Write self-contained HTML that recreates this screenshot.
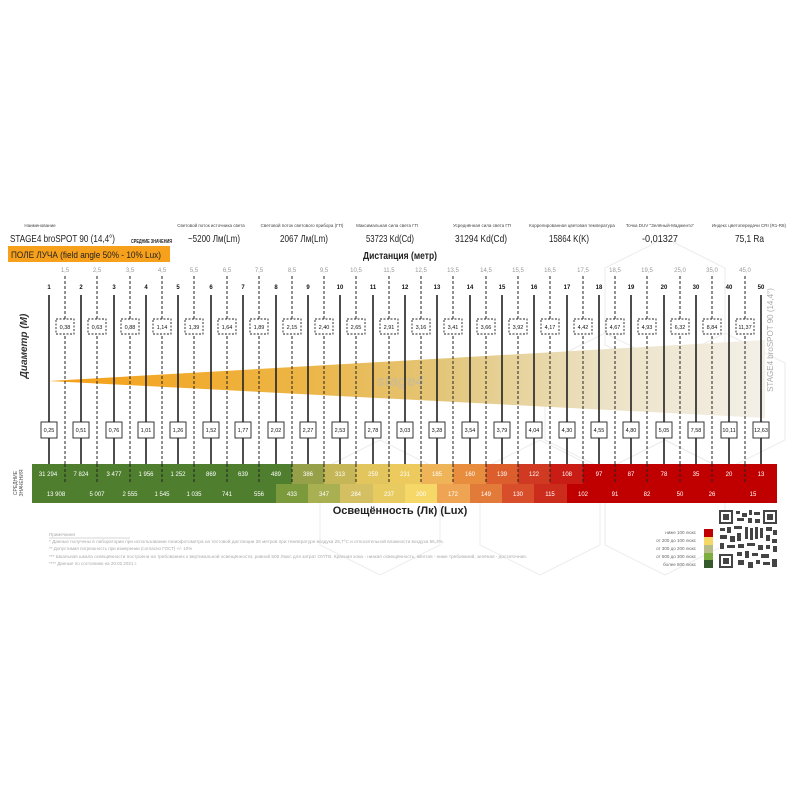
<!DOCTYPE html>
<html><head><meta charset="utf-8"><style>
html,body{margin:0;padding:0;background:#fff;}
svg{display:block;font-family:"Liberation Sans","Noto Sans CJK SC",sans-serif;}
</style></head><body>
<svg width="800" height="800" viewBox="0 0 800 800" xmlns="http://www.w3.org/2000/svg">
<defs>
<linearGradient id="bg" x1="49" y1="0" x2="765" y2="0" gradientUnits="userSpaceOnUse">
<stop offset="0" stop-color="#f5a016"/>
<stop offset="0.35" stop-color="#edb545"/>
<stop offset="0.55" stop-color="#e3c679"/>
<stop offset="0.78" stop-color="#ece2c6"/>
<stop offset="1" stop-color="#f4f0e8"/>
</linearGradient>
</defs>
<rect width="800" height="800" fill="#fff"/>
<g fill="none" stroke="#ebebeb" stroke-width="1">
<polygon points="605,268 665,238 725,268 725,345 665,375 605,345"/>
<polygon points="545,363 605,333 665,363 665,440 605,470 545,440"/>
<polygon points="665,363 725,333 785,363 785,440 725,470 665,440"/>
<polygon points="480,470 540,440 600,470 600,545 540,575 480,545"/>
<polygon points="605,470 665,440 725,470 725,545 665,575 605,545"/>
<polygon points="320,470 380,440 440,470 440,545 380,575 320,545"/>
</g>
<g fill="#444" font-size="4.5" text-anchor="middle">
<text x="40" y="227">Наименование</text>
<text x="211" y="227">Световой поток источника света</text>
<text x="302" y="227">Световой поток светового прибора (ГП)</text>
<text x="387" y="227">Максимальная сила света ГП</text>
<text x="482" y="227">Усреднённая сила света ГП</text>
<text x="572" y="227">Коррелированная цветовая температура</text>
<text x="660" y="227">Точка DUV "Зелёный-Мадженто"</text>
<text x="749" y="227">Индекс цветопередачи CRI (R1-R8)</text>
</g>
<g fill="#222" font-size="10.5" lengthAdjust="spacingAndGlyphs">
<text x="10" y="242" textLength="105" lengthAdjust="spacingAndGlyphs">STAGE4 broSPOT 90 (14,4°)</text>
<text x="188" y="242" textLength="52" lengthAdjust="spacingAndGlyphs">~5200 Лм(Lm)</text>
<text x="280" y="242" textLength="48" lengthAdjust="spacingAndGlyphs">2067 Лм(Lm)</text>
<text x="366" y="242" textLength="48" lengthAdjust="spacingAndGlyphs">53723 Kd(Cd)</text>
<text x="455" y="242" textLength="52" lengthAdjust="spacingAndGlyphs">31294 Kd(Cd)</text>
<text x="549" y="242" textLength="40" lengthAdjust="spacingAndGlyphs">15864 K(K)</text>
<text x="642" y="242" textLength="36" lengthAdjust="spacingAndGlyphs">-0,01327</text>
<text x="735" y="242" textLength="29" lengthAdjust="spacingAndGlyphs">75,1 Ra</text>
</g>
<text x="131" y="243" font-size="5" font-weight="bold" fill="#222" textLength="41" lengthAdjust="spacingAndGlyphs">СРЕДНИЕ ЗНАЧЕНИЯ</text>
<rect x="8" y="246" width="162" height="16" fill="#f7a01b"/>
<text x="11" y="258" font-size="9.5" fill="#222" textLength="150" lengthAdjust="spacingAndGlyphs">ПОЛЕ ЛУЧА (field angle 50% - 10% Lux)</text>
<text x="363" y="259" font-size="10" font-weight="bold" fill="#222" textLength="74" lengthAdjust="spacingAndGlyphs">Дистанция (метр)</text>
<polygon points="49,381 765,340 765,418" fill="url(#bg)"/>
<text x="400" y="386" font-size="15" font-style="italic" font-weight="bold" fill="#b8b8b8" fill-opacity="0.5" text-anchor="middle">stage4</text>
<g stroke="#222" stroke-width="1" stroke-dasharray="3,2">
<path d="M65 276V487M97 276V487M130 276V487M162 276V487M194 276V487M227 276V487M259 276V487M292 276V487M324 276V487M356 276V487M389 276V487M421 276V487M453 276V487M486 276V487M518 276V487M550 276V487M583 276V487M615 276V487M647 276V487M680 276V487M712 276V487M745 276V487"/>
</g>
<g stroke="#222" stroke-width="1.6">
<path d="M49 295V464M81 295V464M114 295V464M146 295V464M178 295V464M211 295V464M243 295V464M276 295V464M308 295V464M340 295V464M373 295V464M405 295V464M437 295V464M470 295V464M502 295V464M534 295V464M567 295V464M599 295V464M631 295V464M664 295V464M696 295V464M729 295V464M761 295V464"/>
</g>
<g fill="#999" font-size="6" text-anchor="middle">
<text x="65" y="272">1,5</text><text x="97" y="272">2,5</text><text x="130" y="272">3,5</text><text x="162" y="272">4,5</text><text x="194" y="272">5,5</text><text x="227" y="272">6,5</text><text x="259" y="272">7,5</text><text x="292" y="272">8,5</text><text x="324" y="272">9,5</text><text x="356" y="272">10,5</text><text x="389" y="272">11,5</text><text x="421" y="272">12,5</text><text x="453" y="272">13,5</text><text x="486" y="272">14,5</text><text x="518" y="272">15,5</text><text x="550" y="272">16,5</text><text x="583" y="272">17,5</text><text x="615" y="272">18,5</text><text x="647" y="272">19,5</text><text x="680" y="272">25,0</text><text x="712" y="272">35,0</text><text x="745" y="272">45,0</text>
</g>
<g fill="#111" font-size="6" font-weight="bold" text-anchor="middle">
<text x="49" y="289">1</text><text x="81" y="289">2</text><text x="114" y="289">3</text><text x="146" y="289">4</text><text x="178" y="289">5</text><text x="211" y="289">6</text><text x="243" y="289">7</text><text x="276" y="289">8</text><text x="308" y="289">9</text><text x="340" y="289">10</text><text x="373" y="289">11</text><text x="405" y="289">12</text><text x="437" y="289">13</text><text x="470" y="289">14</text><text x="502" y="289">15</text><text x="534" y="289">16</text><text x="567" y="289">17</text><text x="599" y="289">18</text><text x="631" y="289">19</text><text x="664" y="289">20</text><text x="696" y="289">30</text><text x="729" y="289">40</text><text x="761" y="289">50</text>
</g>
<g fill="#fff" stroke="#222" stroke-width="0.9" stroke-dasharray="2,1.5">
<rect x="56" y="319" width="18" height="15"/><rect x="88" y="319" width="18" height="15"/><rect x="121" y="319" width="18" height="15"/><rect x="153" y="319" width="18" height="15"/><rect x="185" y="319" width="18" height="15"/><rect x="218" y="319" width="18" height="15"/><rect x="250" y="319" width="18" height="15"/><rect x="283" y="319" width="18" height="15"/><rect x="315" y="319" width="18" height="15"/><rect x="347" y="319" width="18" height="15"/><rect x="380" y="319" width="18" height="15"/><rect x="412" y="319" width="18" height="15"/><rect x="444" y="319" width="18" height="15"/><rect x="477" y="319" width="18" height="15"/><rect x="509" y="319" width="18" height="15"/><rect x="541" y="319" width="18" height="15"/><rect x="574" y="319" width="18" height="15"/><rect x="606" y="319" width="18" height="15"/><rect x="638" y="319" width="18" height="15"/><rect x="671" y="319" width="18" height="15"/><rect x="703" y="319" width="18" height="15"/><rect x="736" y="319" width="18" height="15"/>
</g>
<g fill="#111" font-size="5.5" text-anchor="middle">
<text x="65" y="329">0,38</text><text x="97" y="329">0,63</text><text x="130" y="329">0,88</text><text x="162" y="329">1,14</text><text x="194" y="329">1,39</text><text x="227" y="329">1,64</text><text x="259" y="329">1,89</text><text x="292" y="329">2,15</text><text x="324" y="329">2,40</text><text x="356" y="329">2,65</text><text x="389" y="329">2,91</text><text x="421" y="329">3,16</text><text x="453" y="329">3,41</text><text x="486" y="329">3,66</text><text x="518" y="329">3,92</text><text x="550" y="329">4,17</text><text x="583" y="329">4,42</text><text x="615" y="329">4,67</text><text x="647" y="329">4,93</text><text x="680" y="329">6,32</text><text x="712" y="329">8,84</text><text x="745" y="329">11,37</text>
</g>
<g fill="#fff" stroke="#222" stroke-width="0.9">
<rect x="41" y="422" width="16" height="16"/><rect x="73" y="422" width="16" height="16"/><rect x="106" y="422" width="16" height="16"/><rect x="138" y="422" width="16" height="16"/><rect x="170" y="422" width="16" height="16"/><rect x="203" y="422" width="16" height="16"/><rect x="235" y="422" width="16" height="16"/><rect x="268" y="422" width="16" height="16"/><rect x="300" y="422" width="16" height="16"/><rect x="332" y="422" width="16" height="16"/><rect x="365" y="422" width="16" height="16"/><rect x="397" y="422" width="16" height="16"/><rect x="429" y="422" width="16" height="16"/><rect x="462" y="422" width="16" height="16"/><rect x="494" y="422" width="16" height="16"/><rect x="526" y="422" width="16" height="16"/><rect x="559" y="422" width="16" height="16"/><rect x="591" y="422" width="16" height="16"/><rect x="623" y="422" width="16" height="16"/><rect x="656" y="422" width="16" height="16"/><rect x="688" y="422" width="16" height="16"/><rect x="721" y="422" width="16" height="16"/><rect x="753" y="422" width="16" height="16"/>
</g>
<g fill="#111" font-size="5.5" text-anchor="middle">
<text x="49" y="432">0,25</text><text x="81" y="432">0,51</text><text x="114" y="432">0,76</text><text x="146" y="432">1,01</text><text x="178" y="432">1,26</text><text x="211" y="432">1,52</text><text x="243" y="432">1,77</text><text x="276" y="432">2,02</text><text x="308" y="432">2,27</text><text x="340" y="432">2,53</text><text x="373" y="432">2,78</text><text x="405" y="432">3,03</text><text x="437" y="432">3,28</text><text x="470" y="432">3,54</text><text x="502" y="432">3,79</text><text x="534" y="432">4,04</text><text x="567" y="432">4,30</text><text x="599" y="432">4,55</text><text x="631" y="432">4,80</text><text x="664" y="432">5,05</text><text x="696" y="432">7,58</text><text x="729" y="432">10,11</text><text x="761" y="432">12,63</text>
</g>
<text transform="translate(27,346) rotate(-90)" font-size="10" font-weight="bold" font-style="italic" fill="#333" text-anchor="middle">Диаметр (М)</text>
<text transform="translate(773,340) rotate(-90)" font-size="8" fill="#aaa" text-anchor="middle">STAGE4 broSPOT 90 (14,4°)</text>
<g>
<rect x="32" y="464" width="260" height="20" fill="#4f7f2e"/>
<rect x="292" y="464" width="32" height="20" fill="#96a048"/>
<rect x="324" y="464" width="32" height="20" fill="#c5b758"/>
<rect x="356" y="464" width="33" height="20" fill="#e3c55e"/>
<rect x="389" y="464" width="32" height="20" fill="#ecca5e"/>
<rect x="421" y="464" width="32" height="20" fill="#f0b458"/>
<rect x="453" y="464" width="33" height="20" fill="#e88c3e"/>
<rect x="486" y="464" width="32" height="20" fill="#dc5e2c"/>
<rect x="518" y="464" width="32" height="20" fill="#d03a22"/>
<rect x="550" y="464" width="33" height="20" fill="#c81c14"/>
<rect x="583" y="464" width="194" height="20" fill="#c00000"/>
</g>
<g>
<rect x="32" y="484" width="244" height="19" fill="#4f7f2e"/>
<rect x="276" y="484" width="32" height="19" fill="#7b9a3c"/>
<rect x="308" y="484" width="32" height="19" fill="#a9b052"/>
<rect x="340" y="484" width="33" height="19" fill="#d4c062"/>
<rect x="373" y="484" width="32" height="19" fill="#e8cb60"/>
<rect x="405" y="484" width="32" height="19" fill="#f6d868"/>
<rect x="437" y="484" width="33" height="19" fill="#eea452"/>
<rect x="470" y="484" width="32" height="19" fill="#e27a3a"/>
<rect x="502" y="484" width="32" height="19" fill="#d84e2a"/>
<rect x="534" y="484" width="33" height="19" fill="#cc2c1c"/>
<rect x="567" y="484" width="210" height="19" fill="#c00000"/>
</g>
<g stroke="#222" stroke-width="1" stroke-dasharray="3,2">
<path d="M65 464V484M97 464V484M130 464V484M162 464V484M194 464V484M227 464V484M259 464V484M292 464V484M324 464V484M356 464V484M389 464V484M421 464V484M453 464V484M486 464V484M518 464V484M550 464V484M583 464V484M615 464V484M647 464V484M680 464V484M712 464V484M745 464V484"/>
</g>
<g fill="#fff" font-size="6" text-anchor="middle">
<text x="48" y="476">31 294</text><text x="81" y="476">7 824</text><text x="114" y="476">3 477</text><text x="146" y="476">1 956</text><text x="178" y="476">1 252</text><text x="211" y="476">869</text><text x="243" y="476">639</text><text x="276" y="476">489</text><text x="308" y="476">386</text><text x="340" y="476">313</text><text x="373" y="476">259</text><text x="405" y="476">231</text><text x="437" y="476">185</text><text x="470" y="476">160</text><text x="502" y="476">139</text><text x="534" y="476">122</text><text x="567" y="476">108</text><text x="599" y="476">97</text><text x="631" y="476">87</text><text x="664" y="476">78</text><text x="696" y="476">35</text><text x="729" y="476">20</text><text x="761" y="476">13</text>
<text x="56" y="496">13 908</text><text x="97" y="496">5 007</text><text x="130" y="496">2 555</text><text x="162" y="496">1 545</text><text x="194" y="496">1 035</text><text x="227" y="496">741</text><text x="259" y="496">556</text><text x="292" y="496">433</text><text x="324" y="496">347</text><text x="356" y="496">284</text><text x="389" y="496">237</text><text x="421" y="496">200</text><text x="453" y="496">172</text><text x="486" y="496">149</text><text x="518" y="496">130</text><text x="550" y="496">115</text><text x="583" y="496">102</text><text x="615" y="496">91</text><text x="647" y="496">82</text><text x="680" y="496">50</text><text x="712" y="496">26</text><text x="753" y="496">15</text>
</g>
<text transform="translate(17,483) rotate(-90)" font-size="5" fill="#555" text-anchor="middle">СРЕДНИЕ</text>
<text transform="translate(23,483) rotate(-90)" font-size="5" fill="#555" text-anchor="middle">ЗНАЧЕНИЯ</text>
<text x="400" y="514" font-size="11" font-weight="bold" fill="#222" text-anchor="middle">Освещённость (Лк) (Lux)</text>
<g fill="#aaa" font-size="4.5">
<text x="49" y="536">Примечания</text>
<text x="49" y="543" textLength="395" lengthAdjust="spacingAndGlyphs">* Данные получены в лаборатории при использовании гониофотометра на тестовой дистанции 26 метров при температуре воздуха 25,7°С и относительной влажности воздуха 55,3%.</text>
<text x="49" y="550">** Допустимая погрешность при измерении (согласно ГОСТ) +/- 10%</text>
<text x="49" y="558" textLength="478" lengthAdjust="spacingAndGlyphs">*** Шкальная шкала освещённости построена на требованиях к вертикальной освещённости, равной 500 Люкс для затрат ОУ/ТВ. Красная зона - низкая освещённость, жёлтая - ниже требований, зелёная - достаточная.</text>
<text x="49" y="565">**** Данные по состоянию на 20.02.2021 г.</text>
</g>
<line x1="49" y1="538" x2="130" y2="538" stroke="#aaa" stroke-width="0.5"/>
<g fill="#666" font-size="4.5" text-anchor="end">
<text x="696" y="534">ниже 100 люкс</text>
<text x="696" y="542">от 200 до 100 люкс</text>
<text x="696" y="550">от 300 до 200 люкс</text>
<text x="696" y="558">от 500 до 300 люкс</text>
<text x="696" y="566">более 500 люкс</text>
</g>
<rect x="704" y="529" width="9" height="8" fill="#c00000"/>
<rect x="704" y="537" width="9" height="8" fill="#f6d868"/>
<rect x="704" y="545" width="9" height="8" fill="#b8bc88"/>
<rect x="704" y="553" width="9" height="7" fill="#7fae40"/>
<rect x="704" y="560" width="9" height="8" fill="#35592a"/>
<g fill="#444">
<rect x="719" y="510" width="58" height="58" fill="#fff"/>
<rect x="719" y="510" width="14" height="14"/><rect x="721" y="512" width="10" height="10" fill="#fff"/><rect x="723" y="514" width="6" height="6"/>
<rect x="763" y="510" width="14" height="14"/><rect x="765" y="512" width="10" height="10" fill="#fff"/><rect x="767" y="514" width="6" height="6"/>
<rect x="719" y="554" width="14" height="14"/><rect x="721" y="556" width="10" height="10" fill="#fff"/><rect x="723" y="558" width="6" height="6"/>
<rect x="736" y="511" width="4" height="3"/><rect x="742" y="513" width="5" height="4"/><rect x="749" y="510" width="3" height="5"/><rect x="754" y="512" width="6" height="3"/><rect x="737" y="518" width="7" height="3"/><rect x="748" y="518" width="4" height="5"/><rect x="755" y="519" width="5" height="4"/>
<rect x="720" y="528" width="5" height="3"/><rect x="727" y="527" width="4" height="6"/><rect x="734" y="526" width="8" height="3"/><rect x="745" y="527" width="3" height="12"/><rect x="750" y="528" width="3" height="12"/><rect x="755" y="527" width="3" height="12"/><rect x="760" y="528" width="3" height="10"/><rect x="766" y="527" width="6" height="4"/><rect x="773" y="530" width="4" height="5"/>
<rect x="720" y="535" width="7" height="4"/><rect x="730" y="536" width="5" height="6"/><rect x="737" y="533" width="4" height="8"/><rect x="766" y="535" width="4" height="6"/><rect x="772" y="539" width="5" height="4"/>
<rect x="720" y="543" width="4" height="6"/><rect x="727" y="545" width="8" height="3"/><rect x="738" y="544" width="6" height="4"/><rect x="747" y="543" width="8" height="3"/><rect x="758" y="545" width="5" height="5"/><rect x="766" y="545" width="4" height="4"/><rect x="773" y="546" width="4" height="6"/>
<rect x="737" y="552" width="5" height="4"/><rect x="745" y="551" width="4" height="7"/><rect x="752" y="553" width="6" height="3"/><rect x="761" y="554" width="8" height="4"/><rect x="738" y="560" width="6" height="5"/><rect x="748" y="562" width="5" height="6"/><rect x="756" y="560" width="4" height="4"/><rect x="763" y="562" width="7" height="3"/><rect x="772" y="559" width="5" height="8"/>
</g>
</svg>
</body></html>
